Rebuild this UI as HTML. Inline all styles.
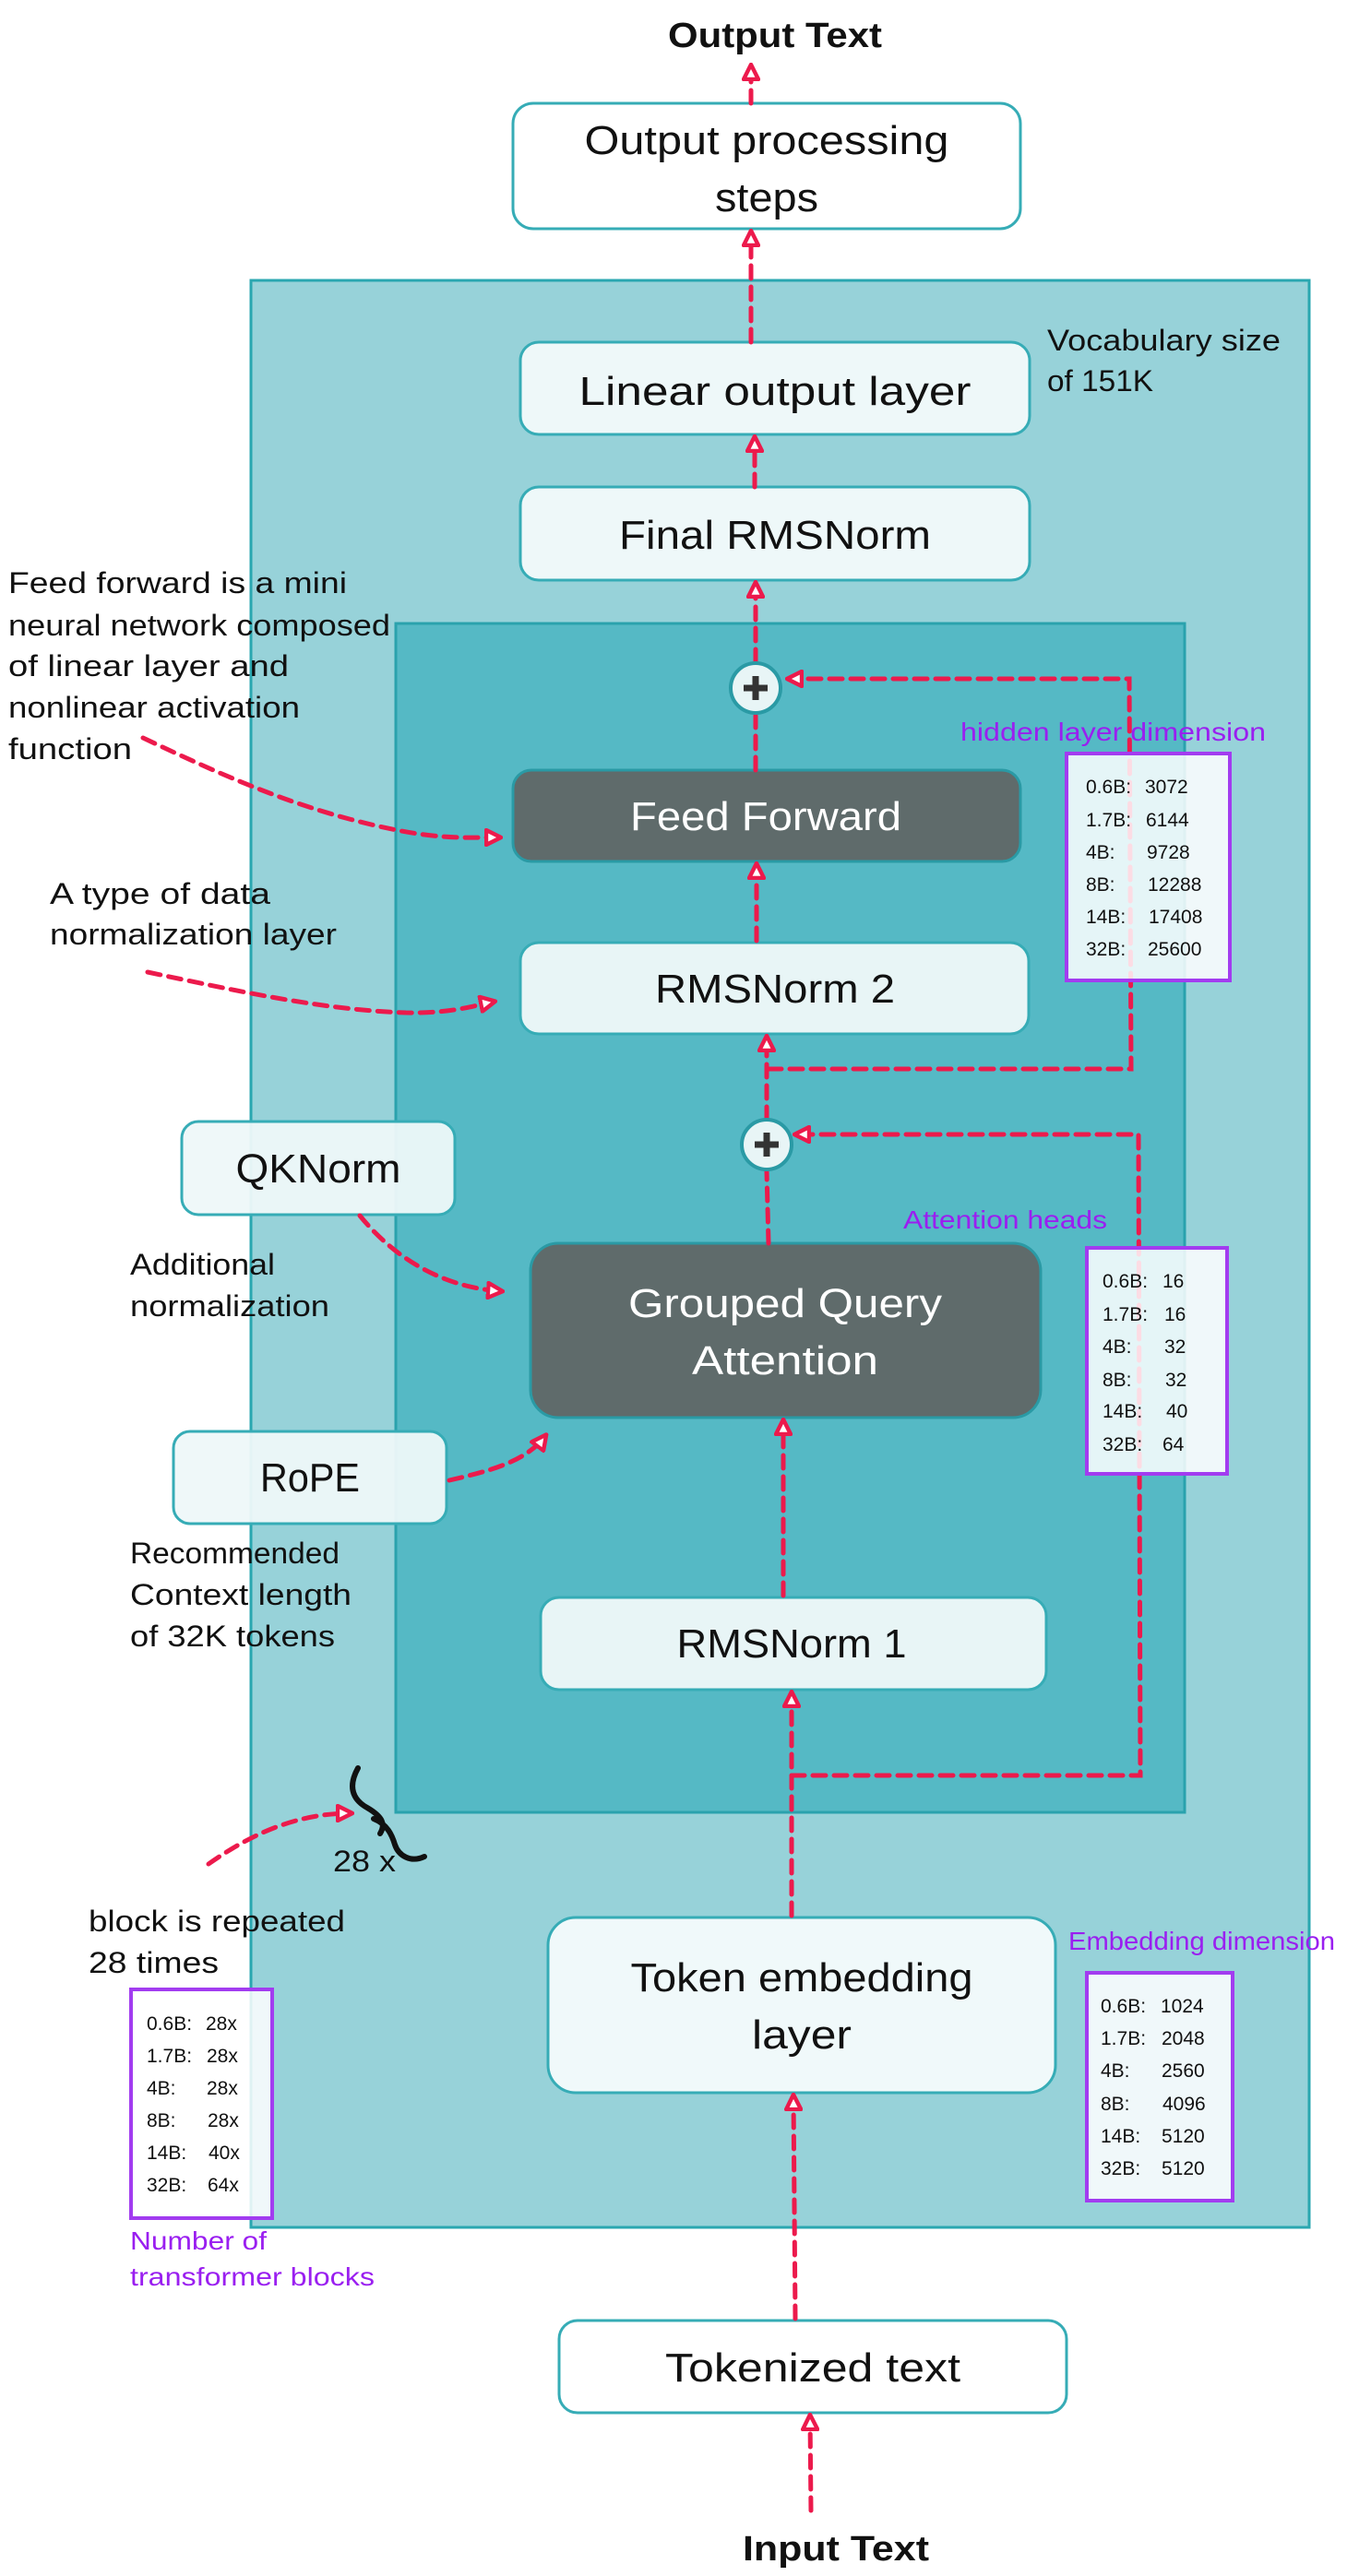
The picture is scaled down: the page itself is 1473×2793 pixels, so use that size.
<!DOCTYPE html>
<html><head><meta charset="utf-8"><style>
html,body{margin:0;padding:0;background:#fff}
svg{display:block}
text{font-family:"Liberation Sans",sans-serif;fill:#111}
.b{font-size:44px}
.a{font-size:32px}
.p{font-size:28px;fill:#9a1ff0}
.t{font-size:21px}
.w{fill:#fff}
.ln{stroke:#ec1a4c;stroke-width:5;fill:none;stroke-dasharray:14 9;stroke-linecap:round}
</style></head><body>
<svg width="1473" height="2793" viewBox="0 0 1473 2793" xmlns="http://www.w3.org/2000/svg">
<defs>
<marker id="m" viewBox="0 0 10 10" refX="8" refY="5" markerWidth="4" markerHeight="4" orient="auto" markerUnits="strokeWidth">
<path d="M1,1 L9,5 L1,9 Z" fill="#fff" stroke="#ec1a4c" stroke-width="2.2" stroke-linejoin="round"/>
</marker>
</defs>

<rect x="272" y="304" width="1147" height="2111" fill="#97d2d9" stroke="#2aa7b0" stroke-width="3"/>
<rect x="429" y="676" width="855" height="1289" fill="#55b9c5" stroke="#2aa2ad" stroke-width="3"/>

<text x="840" y="51" font-size="38" font-weight="bold" text-anchor="middle" textLength="232" lengthAdjust="spacingAndGlyphs">Output Text</text>
<rect x="556" y="112" width="550" height="136" rx="22" fill="#fff" stroke="#36acb6" stroke-width="3"/>
<text class="b" x="831" y="167" text-anchor="middle" textLength="395" lengthAdjust="spacingAndGlyphs">Output processing</text>
<text class="b" x="831" y="229" text-anchor="middle" textLength="112" lengthAdjust="spacingAndGlyphs">steps</text>

<rect x="564" y="371" width="552" height="100" rx="20" fill="#eef8f9" stroke="#36acb6" stroke-width="3"/>
<text class="b" x="840" y="439" text-anchor="middle" textLength="425" lengthAdjust="spacingAndGlyphs">Linear output layer</text>
<text class="a" x="1135" y="380" textLength="253" lengthAdjust="spacingAndGlyphs">Vocabulary size</text>
<text class="a" x="1135" y="424" textLength="115" lengthAdjust="spacingAndGlyphs">of 151K</text>

<rect x="564" y="528" width="552" height="101" rx="20" fill="#eef8f9" stroke="#36acb6" stroke-width="3"/>
<text class="b" x="840" y="595" text-anchor="middle" textLength="338" lengthAdjust="spacingAndGlyphs">Final RMSNorm</text>

<rect x="556" y="835" width="550" height="99" rx="20" fill="#5f6b6b" stroke="#2a9aa5" stroke-width="3"/>
<text class="b w" x="830" y="900" text-anchor="middle" textLength="294" lengthAdjust="spacingAndGlyphs">Feed Forward</text>

<rect x="564" y="1022" width="551" height="99" rx="20" fill="#e8f5f6" stroke="#36acb6" stroke-width="3"/>
<text class="b" x="840" y="1087" text-anchor="middle" textLength="260" lengthAdjust="spacingAndGlyphs">RMSNorm 2</text>

<rect x="575" y="1348" width="553" height="189" rx="30" fill="#5f6b6b" stroke="#2a9aa5" stroke-width="3"/>
<text class="b w" x="851" y="1428" text-anchor="middle" textLength="340" lengthAdjust="spacingAndGlyphs">Grouped Query</text>
<text class="b w" x="851" y="1490" text-anchor="middle" textLength="202" lengthAdjust="spacingAndGlyphs">Attention</text>

<rect x="586" y="1732" width="548" height="100" rx="20" fill="#e8f5f6" stroke="#36acb6" stroke-width="3"/>
<text class="b" x="858" y="1797" text-anchor="middle" textLength="249" lengthAdjust="spacingAndGlyphs">RMSNorm 1</text>

<rect x="594" y="2079" width="550" height="190" rx="30" fill="#f0f9fa" stroke="#36acb6" stroke-width="3"/>
<text class="b" x="869" y="2159" text-anchor="middle" textLength="371" lengthAdjust="spacingAndGlyphs">Token embedding</text>
<text class="b" x="869" y="2221" text-anchor="middle" textLength="108" lengthAdjust="spacingAndGlyphs">layer</text>

<rect x="606" y="2516" width="550" height="100" rx="20" fill="#fff" stroke="#36acb6" stroke-width="3"/>
<text class="b" x="881" y="2582" text-anchor="middle" textLength="320" lengthAdjust="spacingAndGlyphs">Tokenized text</text>
<text x="906" y="2776" font-size="38" font-weight="bold" text-anchor="middle" textLength="202" lengthAdjust="spacingAndGlyphs">Input Text</text>

<rect x="197" y="1216" width="296" height="101" rx="18" fill="#eef8f9" fill-opacity="0.95" stroke="#36acb6" stroke-width="3"/>
<text class="b" x="345" y="1282" text-anchor="middle" textLength="179" lengthAdjust="spacingAndGlyphs">QKNorm</text>
<rect x="188" y="1552" width="296" height="100" rx="18" fill="#eef8f9" fill-opacity="0.95" stroke="#36acb6" stroke-width="3"/>
<text class="b" x="336" y="1617" text-anchor="middle" textLength="108" lengthAdjust="spacingAndGlyphs">RoPE</text>

<text class="a" x="9" y="643" textLength="367" lengthAdjust="spacingAndGlyphs">Feed forward is a mini</text>
<text class="a" x="9" y="689" textLength="414" lengthAdjust="spacingAndGlyphs">neural network composed</text>
<text class="a" x="9" y="733" textLength="304" lengthAdjust="spacingAndGlyphs">of linear layer and</text>
<text class="a" x="9" y="778" textLength="316" lengthAdjust="spacingAndGlyphs">nonlinear activation</text>
<text class="a" x="9" y="823" textLength="134" lengthAdjust="spacingAndGlyphs">function</text>
<text class="a" x="54" y="980" textLength="239" lengthAdjust="spacingAndGlyphs">A type of data</text>
<text class="a" x="54" y="1024" textLength="311" lengthAdjust="spacingAndGlyphs">normalization layer</text>
<text class="a" x="141" y="1382" textLength="157" lengthAdjust="spacingAndGlyphs">Additional</text>
<text class="a" x="141" y="1427" textLength="216" lengthAdjust="spacingAndGlyphs">normalization</text>
<text class="a" x="141" y="1695" textLength="227" lengthAdjust="spacingAndGlyphs">Recommended</text>
<text class="a" x="141" y="1740" textLength="240" lengthAdjust="spacingAndGlyphs">Context length</text>
<text class="a" x="141" y="1785" textLength="222" lengthAdjust="spacingAndGlyphs">of 32K tokens</text>
<text class="a" x="96" y="2094" textLength="278" lengthAdjust="spacingAndGlyphs">block is repeated</text>
<text class="a" x="96" y="2139" textLength="141" lengthAdjust="spacingAndGlyphs">28 times</text>
<text class="a" x="361" y="2029" textLength="68" lengthAdjust="spacingAndGlyphs">28 x</text>
<path d="M388,1917 C378,1935 380,1950 398,1960 C415,1970 418,1978 412,1988 M405,1972 C420,1978 425,1990 428,2000 C432,2012 445,2020 460,2013" stroke="#111" stroke-width="6" fill="none" stroke-linecap="round"/>

<text class="p" x="1041" y="803" textLength="331" lengthAdjust="spacingAndGlyphs">hidden layer  dimension</text>
<text class="p" x="979" y="1332" textLength="221" lengthAdjust="spacingAndGlyphs">Attention heads</text>
<text class="p" x="1158" y="2114" textLength="289" lengthAdjust="spacingAndGlyphs">Embedding dimension</text>
<text class="p" x="141" y="2439" textLength="148" lengthAdjust="spacingAndGlyphs">Number of</text>
<text class="p" x="141" y="2478" textLength="265" lengthAdjust="spacingAndGlyphs">transformer blocks</text>

<path class="ln" d="M814,112 L814,72" marker-end="url(#m)"/>
<path class="ln" d="M814,371 L814,252" marker-end="url(#m)"/>
<path class="ln" d="M818,528 L818,475" marker-end="url(#m)"/>
<path class="ln" d="M819,718 L819,633" marker-end="url(#m)"/>
<path class="ln" d="M819,835 L819,776"/>
<path class="ln" d="M820,1020 L820,938" marker-end="url(#m)"/>
<path class="ln" d="M833,1159 L1226,1159 L1224,736 L855,736" marker-end="url(#m)"/>
<path class="ln" d="M831,1214 L831,1125" marker-end="url(#m)"/>
<path class="ln" d="M833,1348 L831,1270"/>
<path class="ln" d="M858,1925 L1236,1925 L1234,1230 L863,1230" marker-end="url(#m)"/>
<path class="ln" d="M849,1730 L849,1541" marker-end="url(#m)"/>
<path class="ln" d="M858,2077 L858,1836" marker-end="url(#m)"/>
<path class="ln" d="M862,2514 L860,2273" marker-end="url(#m)"/>
<path class="ln" d="M879,2722 L878,2620" marker-end="url(#m)"/>
<path class="ln" d="M155,800 C250,845 330,880 430,900 C480,910 510,908 541,908" marker-end="url(#m)"/>
<path class="ln" d="M160,1054 C260,1075 350,1095 440,1098 C490,1099 515,1090 535,1086" marker-end="url(#m)"/>
<path class="ln" d="M390,1318 C420,1355 470,1395 543,1400" marker-end="url(#m)"/>
<path class="ln" d="M487,1605 C530,1595 570,1585 591,1557" marker-end="url(#m)"/>
<path class="ln" d="M226,2021 C270,1990 320,1966 380,1966" marker-end="url(#m)"/>

<circle cx="819" cy="746" r="27" fill="#e8f5f6" stroke="#2a9aa5" stroke-width="4"/>
<path d="M819,733 V759 M806,746 H832" stroke="#333" stroke-width="7"/>
<circle cx="831" cy="1241" r="27" fill="#e8f5f6" stroke="#2a9aa5" stroke-width="4"/>
<path d="M831,1228 V1254 M818,1241 H844" stroke="#333" stroke-width="7"/>

<g>
<rect x="1156" y="817" width="177" height="246" fill="#fff" fill-opacity="0.85" stroke="#a23cf0" stroke-width="4"/>
<text class="t" x="1177" y="860">0.6B:</text><text class="t" x="1241" y="860">3072</text>
<text class="t" x="1177" y="896">1.7B:</text><text class="t" x="1242" y="896">6144</text>
<text class="t" x="1177" y="931">4B:</text><text class="t" x="1243" y="931">9728</text>
<text class="t" x="1177" y="966">8B:</text><text class="t" x="1244" y="966">12288</text>
<text class="t" x="1177" y="1001">14B:</text><text class="t" x="1245" y="1001">17408</text>
<text class="t" x="1177" y="1036">32B:</text><text class="t" x="1244" y="1036">25600</text>
</g>
<g>
<rect x="1178" y="1353" width="152" height="245" fill="#fff" fill-opacity="0.85" stroke="#a23cf0" stroke-width="4"/>
<text class="t" x="1195" y="1396">0.6B:</text><text class="t" x="1260" y="1396">16</text>
<text class="t" x="1195" y="1432">1.7B:</text><text class="t" x="1262" y="1432">16</text>
<text class="t" x="1195" y="1467">4B:</text><text class="t" x="1262" y="1467">32</text>
<text class="t" x="1195" y="1503">8B:</text><text class="t" x="1263" y="1503">32</text>
<text class="t" x="1195" y="1537">14B:</text><text class="t" x="1264" y="1537">40</text>
<text class="t" x="1195" y="1573">32B:</text><text class="t" x="1260" y="1573">64</text>
</g>
<g>
<rect x="1178" y="2139" width="158" height="247" fill="#fff" fill-opacity="0.85" stroke="#a23cf0" stroke-width="4"/>
<text class="t" x="1193" y="2182">0.6B:</text><text class="t" x="1258" y="2182">1024</text>
<text class="t" x="1193" y="2217">1.7B:</text><text class="t" x="1259" y="2217">2048</text>
<text class="t" x="1193" y="2252">4B:</text><text class="t" x="1259" y="2252">2560</text>
<text class="t" x="1193" y="2288">8B:</text><text class="t" x="1260" y="2288">4096</text>
<text class="t" x="1193" y="2323">14B:</text><text class="t" x="1259" y="2323">5120</text>
<text class="t" x="1193" y="2358">32B:</text><text class="t" x="1259" y="2358">5120</text>
</g>
<g>
<rect x="142" y="2157" width="153" height="248" fill="#fff" fill-opacity="0.85" stroke="#a23cf0" stroke-width="4"/>
<text class="t" x="159" y="2201">0.6B:</text><text class="t" x="223" y="2201">28x</text>
<text class="t" x="159" y="2236">1.7B:</text><text class="t" x="224" y="2236">28x</text>
<text class="t" x="159" y="2271">4B:</text><text class="t" x="224" y="2271">28x</text>
<text class="t" x="159" y="2306">8B:</text><text class="t" x="225" y="2306">28x</text>
<text class="t" x="159" y="2341">14B:</text><text class="t" x="226" y="2341">40x</text>
<text class="t" x="159" y="2376">32B:</text><text class="t" x="225" y="2376">64x</text>
</g>
</svg>
</body></html>
